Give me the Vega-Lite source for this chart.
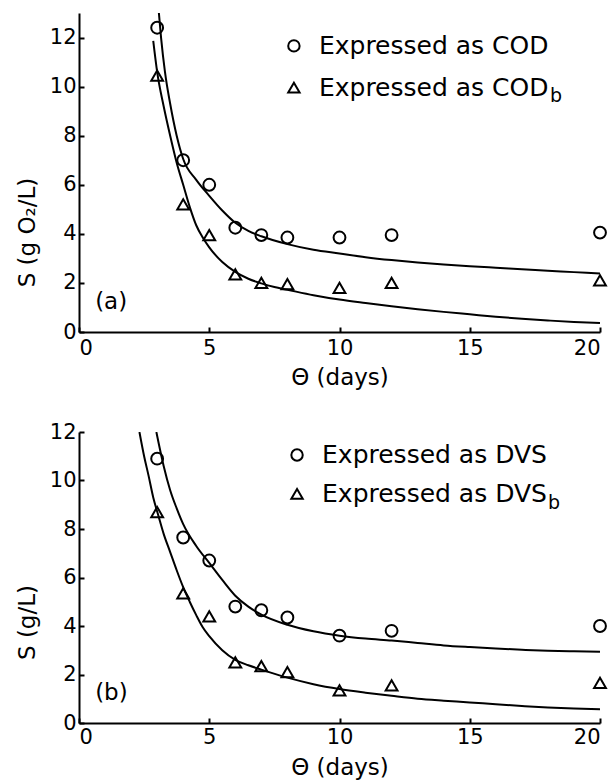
{
  "$schema": "https://vega.github.io/schema/vega-lite/v6.json",
  "autosize": {"type": "pad"},
  "padding": {"left": 16, "top": 13, "right": 0, "bottom": 1},
  "background": "white",
  "config": {
    "view": {"stroke": null},
    "font": "DejaVu Sans",
    "axis": {
      "domainColor": "black", "domainWidth": 2, "tickColor": "black", "tickWidth": 2, "tickSize": -5,
      "labelFont": "DejaVu Sans", "labelFontSize": 21, "labelColor": "black",
      "titleFont": "DejaVu Sans", "titleFontSize": 23, "titleFontWeight": "normal", "titleColor": "black",
      "grid": false
    },
    "text": {"font": "DejaVu Sans", "color": "black", "align": "left", "baseline": "middle"}
  },
  "datasets": {
    "a": [
      {"kind": "obs", "series": "COD", "x": 3, "y": 12.4},
      {"kind": "obs", "series": "COD", "x": 4, "y": 7.0},
      {"kind": "obs", "series": "COD", "x": 5, "y": 6.0},
      {"kind": "obs", "series": "COD", "x": 6, "y": 4.25},
      {"kind": "obs", "series": "COD", "x": 7, "y": 3.95},
      {"kind": "obs", "series": "COD", "x": 8, "y": 3.85},
      {"kind": "obs", "series": "COD", "x": 10, "y": 3.85},
      {"kind": "obs", "series": "COD", "x": 12, "y": 3.95},
      {"kind": "obs", "series": "COD", "x": 20, "y": 4.05},
      {"kind": "obs", "series": "CODb", "x": 3, "y": 10.45},
      {"kind": "obs", "series": "CODb", "x": 4, "y": 5.2},
      {"kind": "obs", "series": "CODb", "x": 5, "y": 3.95},
      {"kind": "obs", "series": "CODb", "x": 6, "y": 2.35},
      {"kind": "obs", "series": "CODb", "x": 7, "y": 2.0},
      {"kind": "obs", "series": "CODb", "x": 8, "y": 1.95},
      {"kind": "obs", "series": "CODb", "x": 10, "y": 1.8},
      {"kind": "obs", "series": "CODb", "x": 12, "y": 2.0},
      {"kind": "obs", "series": "CODb", "x": 20, "y": 2.1},
      {"kind": "fit", "series": "COD", "x": 3.05, "y": 13.2},
      {"kind": "fit", "series": "COD", "x": 3.15, "y": 12.0},
      {"kind": "fit", "series": "COD", "x": 3.3, "y": 10.6},
      {"kind": "fit", "series": "COD", "x": 3.5, "y": 9.3},
      {"kind": "fit", "series": "COD", "x": 3.75, "y": 8.0},
      {"kind": "fit", "series": "COD", "x": 4, "y": 7.05},
      {"kind": "fit", "series": "COD", "x": 4.5, "y": 6.2},
      {"kind": "fit", "series": "COD", "x": 5, "y": 5.55},
      {"kind": "fit", "series": "COD", "x": 5.5, "y": 4.95},
      {"kind": "fit", "series": "COD", "x": 6, "y": 4.45},
      {"kind": "fit", "series": "COD", "x": 6.5, "y": 4.12},
      {"kind": "fit", "series": "COD", "x": 7, "y": 3.9},
      {"kind": "fit", "series": "COD", "x": 8, "y": 3.58},
      {"kind": "fit", "series": "COD", "x": 9, "y": 3.35},
      {"kind": "fit", "series": "COD", "x": 10, "y": 3.2},
      {"kind": "fit", "series": "COD", "x": 11, "y": 3.05},
      {"kind": "fit", "series": "COD", "x": 12, "y": 2.93},
      {"kind": "fit", "series": "COD", "x": 13, "y": 2.83},
      {"kind": "fit", "series": "COD", "x": 14, "y": 2.75},
      {"kind": "fit", "series": "COD", "x": 15, "y": 2.68},
      {"kind": "fit", "series": "COD", "x": 16, "y": 2.62},
      {"kind": "fit", "series": "COD", "x": 17, "y": 2.56},
      {"kind": "fit", "series": "COD", "x": 18, "y": 2.5},
      {"kind": "fit", "series": "COD", "x": 19, "y": 2.44},
      {"kind": "fit", "series": "COD", "x": 20, "y": 2.38},
      {"kind": "fit", "series": "CODb", "x": 2.85, "y": 11.86},
      {"kind": "fit", "series": "CODb", "x": 3.0, "y": 10.6},
      {"kind": "fit", "series": "CODb", "x": 3.25, "y": 9.2},
      {"kind": "fit", "series": "CODb", "x": 3.5, "y": 8.0},
      {"kind": "fit", "series": "CODb", "x": 3.75, "y": 6.9},
      {"kind": "fit", "series": "CODb", "x": 4, "y": 6.0},
      {"kind": "fit", "series": "CODb", "x": 4.25, "y": 5.1},
      {"kind": "fit", "series": "CODb", "x": 4.5, "y": 4.35},
      {"kind": "fit", "series": "CODb", "x": 4.75, "y": 3.85},
      {"kind": "fit", "series": "CODb", "x": 5, "y": 3.45},
      {"kind": "fit", "series": "CODb", "x": 5.5, "y": 2.85},
      {"kind": "fit", "series": "CODb", "x": 6, "y": 2.45},
      {"kind": "fit", "series": "CODb", "x": 6.5, "y": 2.17},
      {"kind": "fit", "series": "CODb", "x": 7, "y": 1.98},
      {"kind": "fit", "series": "CODb", "x": 7.5, "y": 1.83},
      {"kind": "fit", "series": "CODb", "x": 8, "y": 1.72},
      {"kind": "fit", "series": "CODb", "x": 9, "y": 1.5},
      {"kind": "fit", "series": "CODb", "x": 10, "y": 1.32},
      {"kind": "fit", "series": "CODb", "x": 11, "y": 1.18},
      {"kind": "fit", "series": "CODb", "x": 12, "y": 1.05},
      {"kind": "fit", "series": "CODb", "x": 13, "y": 0.93},
      {"kind": "fit", "series": "CODb", "x": 14, "y": 0.82},
      {"kind": "fit", "series": "CODb", "x": 15, "y": 0.72},
      {"kind": "fit", "series": "CODb", "x": 16, "y": 0.62},
      {"kind": "fit", "series": "CODb", "x": 17, "y": 0.54},
      {"kind": "fit", "series": "CODb", "x": 18, "y": 0.47},
      {"kind": "fit", "series": "CODb", "x": 19, "y": 0.41},
      {"kind": "fit", "series": "CODb", "x": 20, "y": 0.37}
    ],
    "b": [
      {"kind": "obs", "series": "DVS", "x": 3, "y": 10.9},
      {"kind": "obs", "series": "DVS", "x": 4, "y": 7.65},
      {"kind": "obs", "series": "DVS", "x": 5, "y": 6.7},
      {"kind": "obs", "series": "DVS", "x": 6, "y": 4.8},
      {"kind": "obs", "series": "DVS", "x": 7, "y": 4.65},
      {"kind": "obs", "series": "DVS", "x": 8, "y": 4.35},
      {"kind": "obs", "series": "DVS", "x": 10, "y": 3.6},
      {"kind": "obs", "series": "DVS", "x": 12, "y": 3.8},
      {"kind": "obs", "series": "DVS", "x": 20, "y": 4.0},
      {"kind": "obs", "series": "DVSb", "x": 3, "y": 8.7},
      {"kind": "obs", "series": "DVSb", "x": 4, "y": 5.35},
      {"kind": "obs", "series": "DVSb", "x": 5, "y": 4.4},
      {"kind": "obs", "series": "DVSb", "x": 6, "y": 2.5},
      {"kind": "obs", "series": "DVSb", "x": 7, "y": 2.35},
      {"kind": "obs", "series": "DVSb", "x": 8, "y": 2.1},
      {"kind": "obs", "series": "DVSb", "x": 10, "y": 1.35},
      {"kind": "obs", "series": "DVSb", "x": 12, "y": 1.55},
      {"kind": "obs", "series": "DVSb", "x": 20, "y": 1.65},
      {"kind": "fit", "series": "DVS", "x": 2.97, "y": 12.0},
      {"kind": "fit", "series": "DVS", "x": 3.25, "y": 10.6},
      {"kind": "fit", "series": "DVS", "x": 3.5, "y": 9.6},
      {"kind": "fit", "series": "DVS", "x": 3.75, "y": 8.85},
      {"kind": "fit", "series": "DVS", "x": 4, "y": 8.2},
      {"kind": "fit", "series": "DVS", "x": 4.5, "y": 7.3},
      {"kind": "fit", "series": "DVS", "x": 5, "y": 6.6},
      {"kind": "fit", "series": "DVS", "x": 5.5, "y": 5.9},
      {"kind": "fit", "series": "DVS", "x": 6, "y": 5.25},
      {"kind": "fit", "series": "DVS", "x": 6.5, "y": 4.8},
      {"kind": "fit", "series": "DVS", "x": 7, "y": 4.47},
      {"kind": "fit", "series": "DVS", "x": 8, "y": 4.05},
      {"kind": "fit", "series": "DVS", "x": 9, "y": 3.78},
      {"kind": "fit", "series": "DVS", "x": 10, "y": 3.6},
      {"kind": "fit", "series": "DVS", "x": 11, "y": 3.48},
      {"kind": "fit", "series": "DVS", "x": 12, "y": 3.4},
      {"kind": "fit", "series": "DVS", "x": 13, "y": 3.3},
      {"kind": "fit", "series": "DVS", "x": 14, "y": 3.2},
      {"kind": "fit", "series": "DVS", "x": 15, "y": 3.13},
      {"kind": "fit", "series": "DVS", "x": 16, "y": 3.07},
      {"kind": "fit", "series": "DVS", "x": 17, "y": 3.02},
      {"kind": "fit", "series": "DVS", "x": 18, "y": 2.98},
      {"kind": "fit", "series": "DVS", "x": 19, "y": 2.96},
      {"kind": "fit", "series": "DVS", "x": 20, "y": 2.94},
      {"kind": "fit", "series": "DVSb", "x": 2.32, "y": 12.0},
      {"kind": "fit", "series": "DVSb", "x": 2.5, "y": 11.0},
      {"kind": "fit", "series": "DVSb", "x": 2.67, "y": 10.2},
      {"kind": "fit", "series": "DVSb", "x": 2.85, "y": 9.3},
      {"kind": "fit", "series": "DVSb", "x": 3.04, "y": 8.58},
      {"kind": "fit", "series": "DVSb", "x": 3.25, "y": 7.8},
      {"kind": "fit", "series": "DVSb", "x": 3.5, "y": 7.05},
      {"kind": "fit", "series": "DVSb", "x": 3.75, "y": 6.3},
      {"kind": "fit", "series": "DVSb", "x": 4, "y": 5.6},
      {"kind": "fit", "series": "DVSb", "x": 4.25, "y": 5.0},
      {"kind": "fit", "series": "DVSb", "x": 4.5, "y": 4.45},
      {"kind": "fit", "series": "DVSb", "x": 4.75, "y": 3.95},
      {"kind": "fit", "series": "DVSb", "x": 5, "y": 3.58},
      {"kind": "fit", "series": "DVSb", "x": 5.5, "y": 3.0},
      {"kind": "fit", "series": "DVSb", "x": 6, "y": 2.6},
      {"kind": "fit", "series": "DVSb", "x": 6.5, "y": 2.38},
      {"kind": "fit", "series": "DVSb", "x": 7, "y": 2.2},
      {"kind": "fit", "series": "DVSb", "x": 8, "y": 1.87},
      {"kind": "fit", "series": "DVSb", "x": 9, "y": 1.6},
      {"kind": "fit", "series": "DVSb", "x": 10, "y": 1.4},
      {"kind": "fit", "series": "DVSb", "x": 11, "y": 1.25},
      {"kind": "fit", "series": "DVSb", "x": 12, "y": 1.12},
      {"kind": "fit", "series": "DVSb", "x": 13, "y": 1.0},
      {"kind": "fit", "series": "DVSb", "x": 14, "y": 0.92},
      {"kind": "fit", "series": "DVSb", "x": 15, "y": 0.85},
      {"kind": "fit", "series": "DVSb", "x": 16, "y": 0.77},
      {"kind": "fit", "series": "DVSb", "x": 17, "y": 0.7},
      {"kind": "fit", "series": "DVSb", "x": 18, "y": 0.64},
      {"kind": "fit", "series": "DVSb", "x": 19, "y": 0.6},
      {"kind": "fit", "series": "DVSb", "x": 20, "y": 0.57}
    ]
  },
  "spacing": 100,
  "bounds": "flush",
  "vconcat": [
    {
      "width": 521, "height": 319,
      "layer": [
        {"data": {"name": "a"},
         "transform": [{"filter": "datum.kind === 'fit'"}],
         "mark": {"type": "line", "color": "black", "strokeWidth": 2, "clip": true, "interpolate": "monotone"},
         "encoding": {
           "x": {"field": "x", "type": "quantitative", "scale": {"domain": [0, 20], "nice": false},
             "axis": {"values": [0, 5, 10, 15, 20], "labelPadding": 10, "title": "Θ (days)", "titleY": 45, "titleBaseline": "middle"}},
           "y": {"field": "y", "type": "quantitative", "scale": {"domain": [0, 13], "nice": false},
             "axis": {"values": [0, 2, 4, 6, 8, 10, 12], "labelPadding": 8, "title": "S (g O₂/L)", "titleX": -52, "titleY": 219, "titleAngle": -90, "titleAlign": "center", "titleBaseline": "middle"}},
           "detail": {"field": "series"}}},
        {"data": {"name": "a"},
         "transform": [{"filter": "datum.kind === 'obs'"}],
         "mark": {"type": "point", "filled": false, "color": "black", "strokeWidth": 2, "size": 140, "opacity": 1},
         "encoding": {
           "x": {"field": "x", "type": "quantitative"},
           "y": {"field": "y", "type": "quantitative"},
           "shape": {"field": "series", "type": "nominal", "scale": {"domain": ["COD", "CODb"], "range": ["circle", "triangle-up"]}, "legend": null}}},
        {"data": {"values": [{"series": "COD"}]},
         "mark": {"type": "point", "filled": false, "color": "black", "strokeWidth": 2, "size": 130, "opacity": 1},
         "encoding": {"x": {"datum": 8.25, "type": "quantitative"}, "y": {"datum": 11.66, "type": "quantitative"},
           "shape": {"field": "series", "type": "nominal", "legend": null}}},
        {"data": {"values": [{"series": "CODb"}]},
         "mark": {"type": "point", "filled": false, "color": "black", "strokeWidth": 2, "size": 130, "opacity": 1},
         "encoding": {"x": {"datum": 8.25, "type": "quantitative"}, "y": {"datum": 9.96, "type": "quantitative"},
           "shape": {"field": "series", "type": "nominal", "legend": null}}},
        {"data": {"values": [{"t": "Expressed as COD"}]},
         "mark": {"type": "text", "fontSize": 25},
         "encoding": {"x": {"datum": 9.21, "type": "quantitative"}, "y": {"datum": 11.66, "type": "quantitative"}, "text": {"field": "t"}}},
        {"data": {"values": [{"t": "Expressed as COD"}]},
         "mark": {"type": "text", "fontSize": 25},
         "encoding": {"x": {"datum": 9.21, "type": "quantitative"}, "y": {"datum": 9.96, "type": "quantitative"}, "text": {"field": "t"}}},
        {"data": {"values": [{"t": "b"}]},
         "mark": {"type": "text", "fontSize": 19},
         "encoding": {"x": {"datum": 18.08, "type": "quantitative"}, "y": {"datum": 9.6, "type": "quantitative"}, "text": {"field": "t"}}},
        {"data": {"values": [{"t": "(a)"}]},
         "mark": {"type": "text", "fontSize": 23},
         "encoding": {"x": {"datum": 0.62, "type": "quantitative"}, "y": {"datum": 1.22, "type": "quantitative"}, "text": {"field": "t"}}}
      ]
    },
    {
      "width": 521, "height": 291,
      "layer": [
        {"data": {"name": "b"},
         "transform": [{"filter": "datum.kind === 'fit'"}],
         "mark": {"type": "line", "color": "black", "strokeWidth": 2, "clip": true, "interpolate": "monotone"},
         "encoding": {
           "x": {"field": "x", "type": "quantitative", "scale": {"domain": [0, 20], "nice": false},
             "axis": {"values": [0, 5, 10, 15, 20], "labelPadding": 8, "title": "Θ (days)", "titleY": 44, "titleBaseline": "middle"}},
           "y": {"field": "y", "type": "quantitative", "scale": {"domain": [0, 12], "nice": false},
             "axis": {"values": [0, 2, 4, 6, 8, 10, 12], "labelPadding": 8, "title": "S (g/L)", "titleX": -52, "titleY": 190, "titleAngle": -90, "titleAlign": "center", "titleBaseline": "middle"}},
           "detail": {"field": "series"}}},
        {"data": {"name": "b"},
         "transform": [{"filter": "datum.kind === 'obs'"}],
         "mark": {"type": "point", "filled": false, "color": "black", "strokeWidth": 2, "size": 140, "opacity": 1},
         "encoding": {
           "x": {"field": "x", "type": "quantitative"},
           "y": {"field": "y", "type": "quantitative"},
           "shape": {"field": "series", "type": "nominal", "scale": {"domain": ["DVS", "DVSb"], "range": ["circle", "triangle-up"]}, "legend": null}}},
        {"data": {"values": [{"series": "DVS"}]},
         "mark": {"type": "point", "filled": false, "color": "black", "strokeWidth": 2, "size": 130, "opacity": 1},
         "encoding": {"x": {"datum": 8.37, "type": "quantitative"}, "y": {"datum": 11.05, "type": "quantitative"},
           "shape": {"field": "series", "type": "nominal", "legend": null}}},
        {"data": {"values": [{"series": "DVSb"}]},
         "mark": {"type": "point", "filled": false, "color": "black", "strokeWidth": 2, "size": 130, "opacity": 1},
         "encoding": {"x": {"datum": 8.37, "type": "quantitative"}, "y": {"datum": 9.45, "type": "quantitative"},
           "shape": {"field": "series", "type": "nominal", "legend": null}}},
        {"data": {"values": [{"t": "Expressed as DVS"}]},
         "mark": {"type": "text", "fontSize": 25},
         "encoding": {"x": {"datum": 9.33, "type": "quantitative"}, "y": {"datum": 11.05, "type": "quantitative"}, "text": {"field": "t"}}},
        {"data": {"values": [{"t": "Expressed as DVS"}]},
         "mark": {"type": "text", "fontSize": 25},
         "encoding": {"x": {"datum": 9.33, "type": "quantitative"}, "y": {"datum": 9.45, "type": "quantitative"}, "text": {"field": "t"}}},
        {"data": {"values": [{"t": "b"}]},
         "mark": {"type": "text", "fontSize": 19},
         "encoding": {"x": {"datum": 18.0, "type": "quantitative"}, "y": {"datum": 9.08, "type": "quantitative"}, "text": {"field": "t"}}},
        {"data": {"values": [{"t": "(b)"}]},
         "mark": {"type": "text", "fontSize": 23},
         "encoding": {"x": {"datum": 0.62, "type": "quantitative"}, "y": {"datum": 1.24, "type": "quantitative"}, "text": {"field": "t"}}}
      ]
    }
  ]
}
